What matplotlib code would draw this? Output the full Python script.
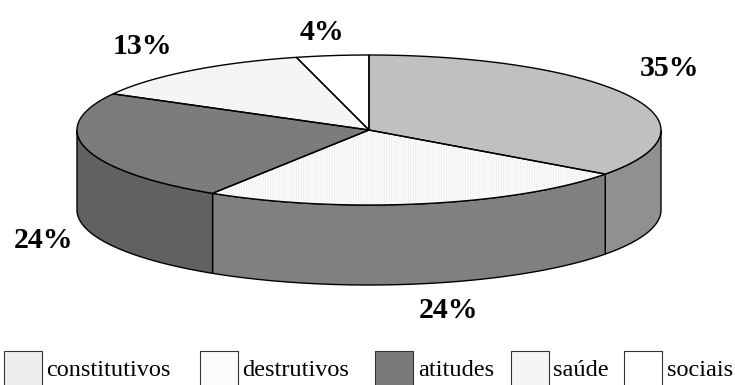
import matplotlib
matplotlib.use('Agg')
import matplotlib.pyplot as plt
from matplotlib.patches import Polygon, Rectangle
import numpy as np

categories = ['constitutivos', 'destrutivos', 'atitudes', 'saúde', 'sociais']
values = [35, 24, 24, 13, 4]

top_colors = ['#c0c0c0', '#fbfbfb', '#7f7f7f', '#f5f5f5', '#ffffff']
side_colors = ['#909090', '#808080', '#616161', '#b8b8b8', '#c0c0c0']
swatch_colors = ['#eeeeee', '#fbfbfb', '#7a7a7a', '#f5f5f5', '#ffffff']
hatches = [None, '|||||||', '........', None, None]
hatch_colors = [None, '#e2e2e2', '#6a6a6a', None, None]

cx, cy = 369, 130
rx, ry = 292, 75
depth = 80

plt.rcParams['font.family'] = ['Liberation Serif', 'DejaVu Serif']
plt.rcParams['hatch.linewidth'] = 0.3

fig = plt.figure(figsize=(7.35, 3.85), dpi=100)
ax = fig.add_axes([0, 0, 1, 1])
ax.set_xlim(0, 735)
ax.set_ylim(385, 0)
ax.axis('off')


def rim(a, b):
    # points along the ellipse, angles in degrees clockwise from 12 o'clock
    t = np.radians(np.linspace(a, b, 120))
    return np.column_stack([cx + rx * np.sin(t), cy - ry * np.cos(t)])


def shaded(pts, face, hatch, hatch_color, zorder):
    if hatch:
        ax.add_patch(Polygon(pts, closed=True, facecolor=face, edgecolor=hatch_color,
                             hatch=hatch, linewidth=0, zorder=zorder))
    else:
        ax.add_patch(Polygon(pts, closed=True, facecolor=face, edgecolor='none', zorder=zorder))
    ax.add_patch(Polygon(pts, closed=True, facecolor='none', edgecolor='black',
                         linewidth=1.0, zorder=zorder + 0.5))


edges = np.concatenate([[0], np.cumsum(values)]) / sum(values) * 360

# outer wall first, only the part facing the viewer
for i in range(len(values)):
    a, b = max(edges[i], 90), min(edges[i + 1], 270)
    if b <= a:
        continue
    upper = rim(a, b)
    lower = upper[::-1] + [0, depth]
    ax.add_patch(Polygon(np.vstack([upper, lower]), closed=True, facecolor=side_colors[i],
                         edgecolor='black', linewidth=1.0, zorder=2))

# top face
for i in range(len(values)):
    pts = np.vstack([[cx, cy], rim(edges[i], edges[i + 1])])
    shaded(pts, top_colors[i], hatches[i], hatch_colors[i], 3)

# percentage labels
label_x = [670, 449, 44, 142, 322]
label_y = [69, 311, 241, 47, 32]
for v, x, y in zip(values, label_x, label_y):
    ax.text(x, y, f'{v}%', fontsize=21.5, fontweight='bold', ha='center', va='center', zorder=5)

# legend row, runs off the bottom edge
swatch_x = [4, 200, 375, 511, 624]
text_x = [46, 242, 418, 553, 667]
for i, name in enumerate(categories):
    ax.add_patch(Rectangle((swatch_x[i], 351), 38, 40, facecolor=swatch_colors[i],
                           edgecolor='#333333', linewidth=0.8, zorder=4))
    ax.text(text_x[i], 376, name, fontsize=17.5, ha='left', va='baseline', zorder=5)

fig.savefig('out.png', dpi=100)
